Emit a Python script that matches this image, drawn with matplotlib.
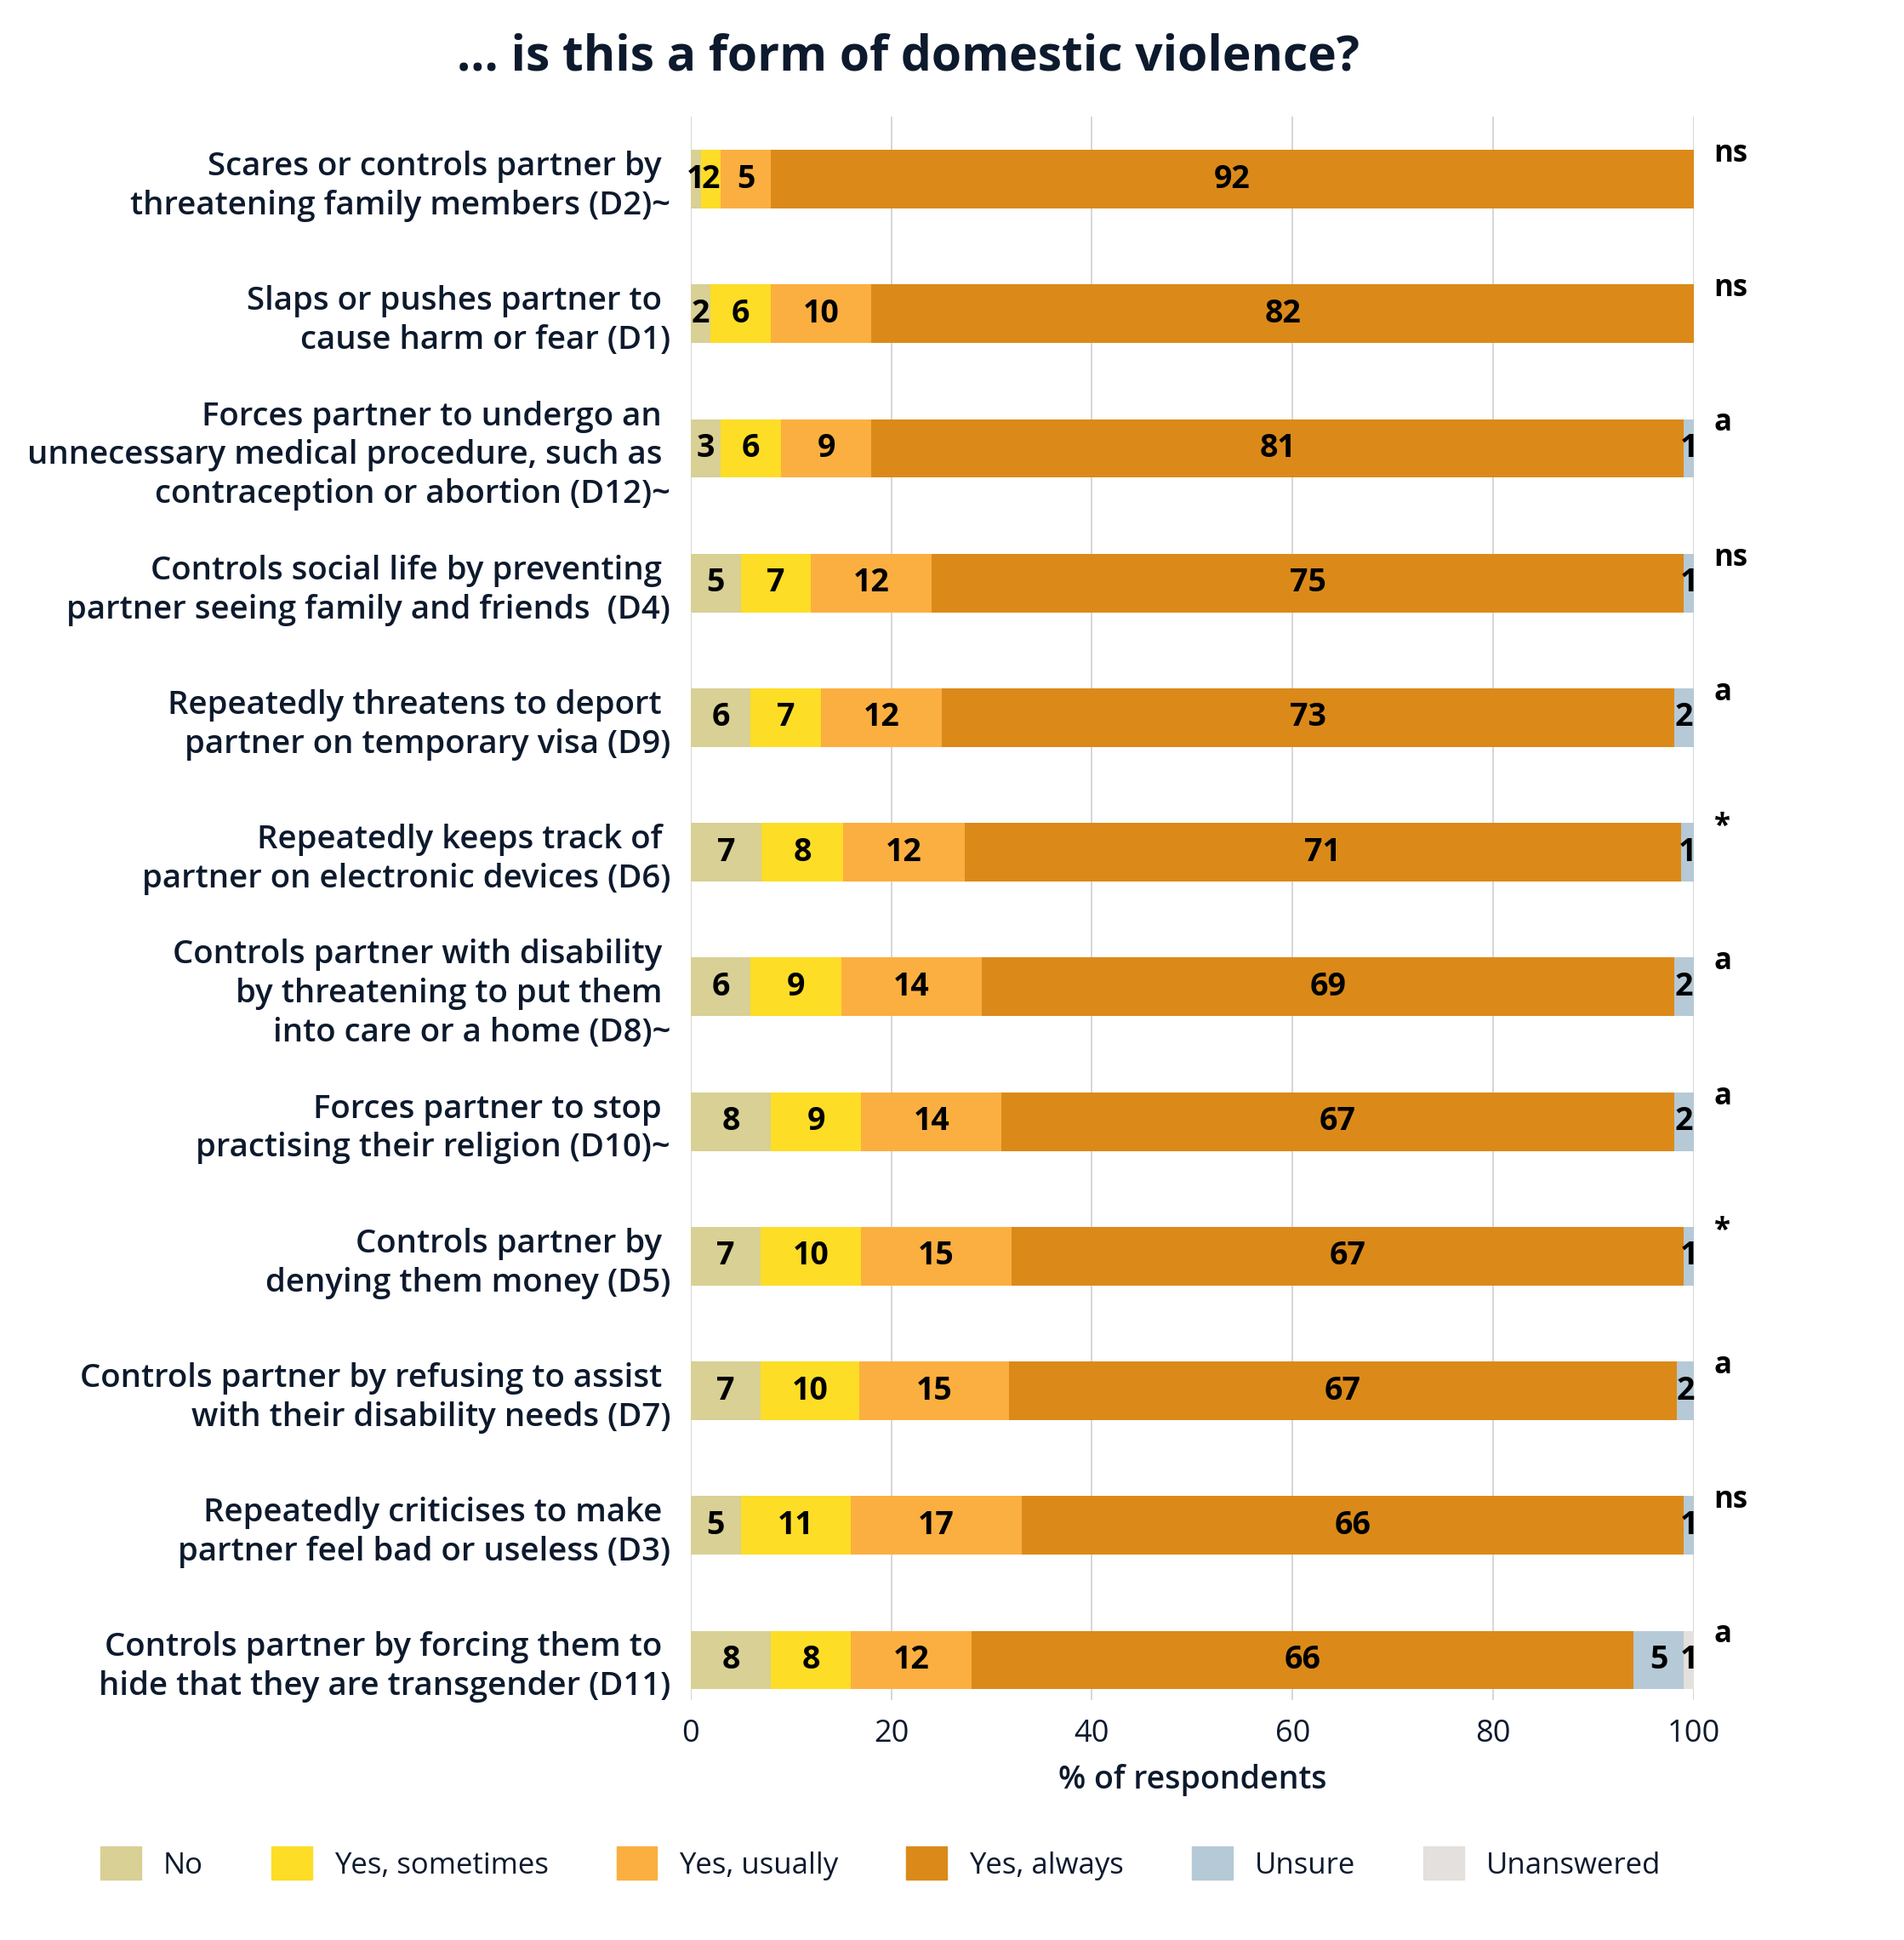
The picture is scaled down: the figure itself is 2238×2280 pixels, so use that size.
import numpy as np
import matplotlib.pyplot as plt
from matplotlib.patches import Patch

plt.rcParams['font.family'] = ['Open Sans', 'DejaVu Sans']

# Questions, top to bottom
labels = [
    "Scares or controls partner by \nthreatening family members (D2)~",
    "Slaps or pushes partner to \ncause harm or fear (D1)",
    "Forces partner to undergo an \nunnecessary medical procedure, such as \ncontraception or abortion (D12)~",
    "Controls social life by preventing \npartner seeing family and friends  (D4)",
    "Repeatedly threatens to deport \npartner on temporary visa (D9)",
    "Repeatedly keeps track of \npartner on electronic devices (D6)",
    "Controls partner with disability \nby threatening to put them \ninto care or a home (D8)~",
    "Forces partner to stop \npractising their religion (D10)~",
    "Controls partner by \ndenying them money (D5)",
    "Controls partner by refusing to assist \nwith their disability needs (D7)",
    "Repeatedly criticises to make \npartner feel bad or useless (D3)",
    "Controls partner by forcing them to \nhide that they are transgender (D11)",
]

# % of respondents per answer
no = [1.0, 2.0, 3.0, 5.0, 6.0, 7.1, 6.0, 8.0, 7.0, 7.0, 5.0, 8.0]
yes_sometimes = [2.0, 6.0, 6.0, 7.0, 7.0, 8.1, 9.0, 9.0, 10.0, 9.8, 11.0, 8.0]
yes_usually = [5.0, 10.0, 9.0, 12.0, 12.0, 12.1, 14.0, 14.0, 15.0, 14.9, 17.0, 12.0]
yes_always = [92.0, 82.0, 81.0, 75.0, 73.0, 71.4, 69.0, 67.0, 67.0, 66.6, 66.0, 66.0]
unsure = [0, 0, 1.0, 1.0, 2.0, 1.3, 2.0, 2.0, 1.0, 1.7, 1.0, 5.0]
unanswered = [0, 0, 0, 0, 0, 0, 0, 0, 0, 0, 0, 1.0]

significance = ['ns', 'ns', 'a', 'ns', 'a', '*', 'a', 'a', '*', 'a', 'ns', 'a']

series = [no, yes_sometimes, yes_usually, yes_always, unsure, unanswered]
series_names = ['No', 'Yes, sometimes', 'Yes, usually', 'Yes, always', 'Unsure', 'Unanswered']
colors = ['#d8d094', '#fddd26', '#fbaf40', '#db8a19', '#b6c9d6', '#e3e0dd']

navy = '#0d1a2d'

fig = plt.figure(figsize=(22.38, 22.80), dpi=100)
ax = fig.add_axes([0.3627, 0.1237, 0.5270, 0.8162])

y = np.arange(len(labels))
left = np.zeros(len(labels))
for vals, name, col in zip(series, series_names, colors):
    vals = np.array(vals)
    ax.barh(y, vals, left=left, height=0.435, color=col, label=name, zorder=2)
    for yi, l, v in zip(y, left, vals):
        if v > 0:
            ax.text(l + v / 2, yi, f"{round(v)}", ha='center', va='center',
                    fontsize=27, fontweight='bold', color='black', zorder=3)
    left += vals

# significance markers to the right of each bar
for yi, s in zip(y, significance):
    ax.text(102, yi - 0.13, s, ha='left', va='baseline', fontsize=25,
            fontweight='bold', color='black', clip_on=False)

ax.set_xlim(0, 100)
ax.set_ylim(11.297, -0.465)
ax.set_yticks(y)
ax.set_yticklabels(labels, fontsize=27.6, fontweight='semibold', color=navy,
                   linespacing=1.27)
ax.set_xticks([0, 20, 40, 60, 80, 100])
ax.tick_params(axis='y', length=0, pad=17)
ax.tick_params(axis='x', length=0, pad=16, labelsize=26, labelcolor=navy)
ax.set_xlabel('% of respondents', fontsize=27, fontweight='semibold',
              color=navy, labelpad=12)
ax.grid(axis='x', color='#d0d0d0', linewidth=1.2, zorder=0)
ax.set_axisbelow(True)
for sp in ax.spines.values():
    sp.set_visible(False)

fig.text(0.477, 0.964, '\u2026 is this a form of domestic violence?', ha='center',
         va='baseline', fontsize=41, fontweight='bold', color=navy)

handles = [Patch(color=c) for c in colors]
fig.legend(handles, series_names, loc='center left',
           bbox_to_anchor=(118 / 2238, 1 - 2190 / 2280), ncol=6, frameon=False,
           fontsize=25, handlelength=1.38, handleheight=1.35, handletextpad=0.75,
           columnspacing=2.3, borderpad=0, borderaxespad=0, labelcolor=navy)

plt.savefig('out.png', dpi=100)
